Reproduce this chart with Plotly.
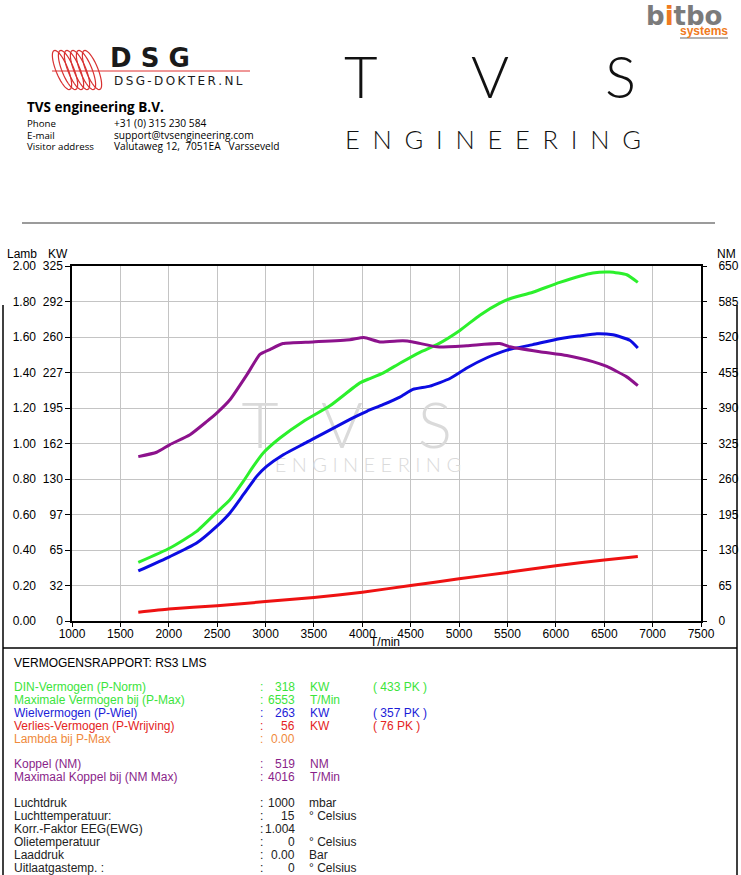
import math
import plotly.graph_objects as go

# ---- data read from the dyno sheet ----
rpm_din = [1685, 2012, 2288, 2495, 2632, 2770, 2873, 2976, 3149, 3390, 3665, 3975, 4078,
           4213, 4388, 4595, 4771, 5008, 5215, 5421, 5525, 5762, 6041, 6382, 6558, 6733, 6847]
kw_din = [53.6, 66.8, 82, 99.5, 111, 127.8, 141.5, 153.8, 167.5, 182.7, 197, 218, 222,
          227, 236, 246, 253, 266, 280, 291, 295, 301, 310, 318.6, 319.5, 317, 310]

rpm_wiel = [1685, 2012, 2288, 2495, 2632, 2770, 2908, 3011, 3183, 3424, 3903, 4047, 4213,
            4388, 4523, 4698, 4905, 5080, 5287, 5494, 5762, 6010, 6248, 6424, 6589, 6764, 6847]
kw_wiel = [45.8, 59, 71.4, 86.6, 98.9, 115.6, 132.4, 141.5, 152.2, 163.5, 186, 192, 198,
           205, 212, 215, 222, 231.6, 241, 248, 253, 258, 261, 263, 262, 257, 250]

rpm_loss = [1685, 2000, 2500, 3000, 3500, 4000, 4500, 5000, 5500, 6000, 6500, 6847]
kw_loss = [8, 11, 14, 17.8, 21.5, 26.4, 32.5, 38.6, 44.5, 50.6, 55.8, 59]

rpm_nm = [1685, 1875, 2012, 2219, 2391, 2498, 2632, 2808, 2942, 3045, 3180, 3490, 3872, 4016,
          4182, 4419, 4523, 4771, 5080, 5421, 5525, 5834, 6113, 6382, 6527, 6733, 6847]
nm = [301, 309, 323, 341, 365, 381, 405, 451, 488, 497, 508, 511, 515, 519,
      511, 513, 511, 502, 504, 508, 502, 493, 486, 475, 466, 447, 431]

kw_ticktext = ['0', '32', '65', '97', '130', '162', '195', '227', '260', '292', '325']
kw_tickvals = [i * 32.5 for i in range(11)]
lamb_ticktext = ['0.00', '0.20', '0.40', '0.60', '0.80', '1.00', '1.20', '1.40', '1.60', '1.80', '2.00']
lamb_tickvals = [i * 0.2 for i in range(11)]
nm_tickvals = [i * 65 for i in range(11)]

# report table: (label, value, unit, pk, colour)
report_power = [
    ('DIN-Vermogen (P-Norm)', '318', 'KW', '( 433 PK )', '#3be43b'),
    ('Maximale Vermogen bij (P-Max)', '6553', 'T/Min', '', '#3be43b'),
    ('Wielvermogen (P-Wiel)', '263', 'KW', '( 357 PK )', '#1c1cd8'),
    ('Verlies-Vermogen (P-Wrijving)', '56', 'KW', '( 76 PK )', '#e42424'),
    ('Lambda bij P-Max', '0.00', '', '', '#f08a3c'),
]
report_torque = [
    ('Koppel (NM)', '519', 'NM', '', '#8a1f8a'),
    ('Maximaal Koppel bij (NM Max)', '4016', 'T/Min', '', '#8a1f8a'),
]
report_env = [
    ('Luchtdruk', '1000', 'mbar'),
    ('Luchttemperatuur:', '15', '° Celsius'),
    ('Korr.-Faktor EEG(EWG)', '1.004', ''),
    ('Olietemperatuur', '0', '° Celsius'),
    ('Laaddruk', '0.00', 'Bar'),
    ('Uitlaatgastemp. :', '0', '° Celsius'),
]

W, H = 741, 875
L, R, T, B = 72, 701, 266, 621


def px(x):
    return (x - L) / (R - L)


def py(y):
    return (B - y) / (B - T)


FONT = 'Liberation Sans, Arial, sans-serif'
green, blue, red, purple = '#2cf02c', '#0c0ce2', '#ee1212', '#8c128c'

fig = go.Figure()

# watermark behind the curves
fig.add_trace(go.Scatter(x=[2942, 3790, 4750], y=[173, 173, 173], mode='text',
                         text=['T', 'V', 'S'], hoverinfo='skip', showlegend=False, cliponaxis=False,
                         textfont=dict(family='Lato', size=64, color='#dadada', weight=300)))
fig.add_trace(go.Scatter(x=[4058], y=[141], mode='text', text=['E N G I N E E R I N G'],
                         hoverinfo='skip', showlegend=False, cliponaxis=False,
                         textfont=dict(family='Lato', size=20, color='#dadada', weight=300)))

spl = dict(width=3, shape='spline', smoothing=0.5)
fig.add_trace(go.Scatter(x=rpm_loss, y=kw_loss, mode='lines', name='P-Wrijving',
                         line=dict(color=red, **spl)))
fig.add_trace(go.Scatter(x=rpm_wiel, y=kw_wiel, mode='lines', name='P-Wiel',
                         line=dict(color=blue, **spl)))
fig.add_trace(go.Scatter(x=rpm_din, y=kw_din, mode='lines', name='P-Norm',
                         line=dict(color=green, **spl)))
fig.add_trace(go.Scatter(x=rpm_nm, y=nm, mode='lines', name='NM', yaxis='y2',
                         line=dict(color=purple, **spl)))
# lambda scale (no lambda trace recorded)
fig.add_trace(go.Scatter(x=[None], y=[None], yaxis='y3', showlegend=False))

tickfont = dict(family=FONT, size=12, color='black')

fig.update_layout(
    width=W, height=H, autosize=False,
    margin=dict(l=L, r=W - R, t=T, b=H - B, pad=0),
    paper_bgcolor='white', plot_bgcolor='white',
    showlegend=False,
    font=dict(family=FONT, size=12, color='black'),
    xaxis=dict(range=[1000, 7500], dtick=500, tick0=1000, showgrid=True, gridcolor='#c4c4c4',
               gridwidth=1, zeroline=False, showline=True, linecolor='black', linewidth=1.5,
               mirror=True, ticks='outside', ticklen=4, tickcolor='black', tickfont=tickfont,
               ticklabelstandoff=-3, automargin=False),
    yaxis=dict(range=[0, 325], tickvals=kw_tickvals, ticktext=kw_ticktext, showgrid=True,
               gridcolor='#c4c4c4', gridwidth=1, zeroline=False, showline=True,
               linecolor='black', linewidth=1.5, mirror=True, ticks='outside', ticklen=5,
               tickcolor='black', tickfont=tickfont, automargin=False),
    yaxis2=dict(range=[0, 650], tickvals=nm_tickvals, overlaying='y', side='right',
                showgrid=False, zeroline=False, showline=False, ticks='outside', ticklen=5,
                tickcolor='black', tickfont=tickfont, ticklabelstandoff=9, automargin=False),
    yaxis3=dict(range=[0, 2], tickvals=lamb_tickvals, ticktext=lamb_ticktext, overlaying='y',
                side='left', anchor='free', position=0, shift=-36, autoshift=False,
                showgrid=False, zeroline=False, showline=False, ticks='', tickfont=tickfont,
                automargin=False),
)

ann = []


def text(x, y, s, size=12, color='black', family=FONT, xanchor='left', weight=None):
    f = dict(family=family, size=size, color=color)
    if weight:
        f['weight'] = weight
    ann.append(dict(x=px(x), y=py(y), xref='paper', yref='paper', text=s, showarrow=False,
                    xanchor=xanchor, yanchor='middle', font=f))


# axis captions
text(22, 254, 'Lamb', xanchor='center')
text(58, 254, 'KW', xanchor='center')
text(726, 254, 'NM', xanchor='center')
text(385, 642, 'T/min', xanchor='center')

# report block
COL = 258
text(12, 663, 'VERMOGENSRAPPORT: RS3 LMS')
ys = [687, 700, 713, 726, 739]
for yy, (lab, val, unit, pk, col) in zip(ys, report_power):
    text(12, yy, lab, color=col)
    text(COL, yy, ':', color=col)
    text(297, yy, val, color=col, xanchor='right')
    if unit:
        text(308, yy, unit, color=col)
    if pk:
        text(371, yy, pk, color=col)
for yy, (lab, val, unit, pk, col) in zip([764, 777], report_torque):
    text(12, yy, lab, color=col)
    text(COL, yy, ':', color=col)
    text(297, yy, val, color=col, xanchor='right')
    text(308, yy, unit, color=col)
for yy, (lab, val, unit) in zip([803, 816, 829, 842, 855, 868], report_env):
    text(12, yy, lab, color='#222222')
    text(COL, yy, ':', color='#222222')
    text(297, yy, val, color='#222222', xanchor='right')
    if unit:
        text(307, yy, unit, color='#222222')

# header: company block
HF = 'Open Sans'
text(25, 107, 'TVS engineering B.V.', size=13.5, family=HF, weight='bold')
for yy, a, b in [(123, 'Phone', '+31 (0) 315 230 584'),
                 (135, 'E-mail', 'support@tvsengineering.com'),
                 (146, 'Visitor address', 'Valutaweg 12,  7051EA   Varsseveld')]:
    text(25, yy, a, size=9.7, family=HF)
    text(112, yy, b, size=10.2, family=HF)

# DSG logo text
text(150, 58, 'D S G', size=26, family='DejaVu Sans', weight=900, xanchor='center', color='#1a1a1a')
text(178, 81, 'D\u2009S\u2009G\u2009-\u2009D\u2009O\u2009K\u2009T\u2009E\u2009R\u2009.\u2009N\u2009L',
     size=12, family='DejaVu Sans', xanchor='center', color='#1a1a1a')

# TVS logo
for cx, ch in [(361, 'T'), (490, 'V'), (620, 'S')]:
    text(cx, 75, ch, size=58, family='Lato', weight=300, xanchor='center', color='#111111')
text(493, 139, 'E\u2002N\u2002G\u2002I\u2002N\u2002E\u2002E\u2002R\u2002I\u2002N\u2002G', size=25.5,
     family='Lato', weight=300, xanchor='center', color='#111111')

# bitbo systems
text(684, 16, 'b<span style="color:#f07a20">i</span>tbo', size=26, family='DejaVu Sans',
     weight='bold', xanchor='center', color='#7b7b7b')
text(704, 31, 'systems', size=12, family='Liberation Sans', weight='bold', xanchor='center',
     color='#f07a20')

fig.update_layout(annotations=ann)

# frame lines and separators
shapes = []


def seg(x0, y0, x1, y1, color='black', width=1.5):
    shapes.append(dict(type='line', xref='paper', yref='paper', x0=px(x0), y0=py(y0),
                       x1=px(x1), y1=py(y1), line=dict(color=color, width=width)))


seg(22, 223, 715, 223, color='#7a7a7a', width=1.5)
seg(3, 305, 3, 875)
seg(737, 305, 737, 875)
seg(3, 648, 737, 648)
seg(52, 71, 250, 71, color='#e03030', width=1)
seg(680, 38, 728, 38, color='#9a9a9a', width=1.5)

# red coil of the DSG logo: tilted ellipses
for k in range(6):
    cx, cy = 62 + k * 6, 70
    pts = []
    for i in range(41):
        t = 2 * math.pi * i / 40
        ex, ey = 6 * math.cos(t), 21 * math.sin(t)
        a = math.radians(-22)
        X = cx + ex * math.cos(a) - ey * math.sin(a)
        Y = cy + ex * math.sin(a) + ey * math.cos(a)
        pts.append((px(X), py(Y)))
    path = 'M ' + ' L '.join(f'{a:.5f},{b:.5f}' for a, b in pts) + ' Z'
    shapes.append(dict(type='path', xref='paper', yref='paper', path=path,
                       line=dict(color='#d83030', width=1.2)))

fig.update_layout(shapes=shapes)

fig.write_html("out.html", config={'displayModeBar': False},
               post_script="document.body.style.margin='0';")
